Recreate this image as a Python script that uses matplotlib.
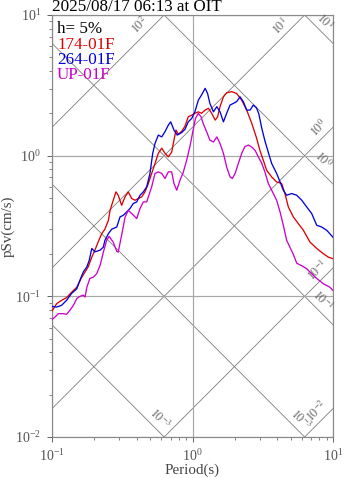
# Spectre de réponse pSv (tripartite) - 2025/08/17 06:13 at OIT
import numpy as np
import matplotlib
matplotlib.use('Agg')
import matplotlib.pyplot as plt

plt.rcParams['font.family'] = ['Liberation Serif', 'DejaVu Serif']
plt.rcParams['mathtext.fontset'] = 'stix'

# Données
red_T = [0.1, 0.108, 0.117, 0.127, 0.138, 0.15, 0.163, 0.172, 0.181, 0.192, 0.202, 0.214,
         0.226, 0.238, 0.252, 0.259, 0.273, 0.285, 0.296, 0.313, 0.331, 0.349, 0.369, 0.39,
         0.411, 0.435, 0.459, 0.485, 0.512, 0.541, 0.571, 0.604, 0.637, 0.673, 0.711, 0.738,
         0.763, 0.792, 0.838, 0.884, 0.933, 0.987, 1.04, 1.1, 1.16, 1.23, 1.3, 1.37,
         1.45, 1.51, 1.57, 1.66, 1.75, 1.9, 2.06, 2.24, 2.43, 2.64, 2.86, 3.02,
         3.19, 3.37, 3.66, 3.97, 4.31, 4.55, 4.81, 5.22, 5.66, 6.15, 6.86, 7.66,
         8.53, 9.26, 10]
red_S = [0.0786, 0.0887, 0.0937, 0.0979, 0.107, 0.116, 0.137, 0.149, 0.162, 0.19, 0.213, 0.246,
         0.279, 0.3, 0.347, 0.409, 0.482, 0.553, 0.523, 0.444, 0.509, 0.553, 0.496, 0.482,
         0.496, 0.509, 0.553, 0.634, 0.747, 0.88, 1.04, 1.13, 1.04, 0.981, 1.06, 1.29,
         1.52, 1.42, 1.49, 1.62, 1.89, 1.94, 2, 2.05, 2, 2.11, 2.17, 2,
         1.79, 1.89, 2.23, 2.62, 2.8, 2.85, 2.77, 2.48, 2.11, 1.7, 1.33, 1.09,
         0.929, 0.788, 0.706, 0.651, 0.634, 0.538, 0.432, 0.367, 0.329, 0.295, 0.243, 0.219,
         0.201, 0.19, 0.185]

blue_T = [0.1, 0.108, 0.117, 0.127, 0.138, 0.15, 0.158, 0.167, 0.177, 0.184, 0.192, 0.202,
          0.22, 0.232, 0.238, 0.252, 0.266, 0.289, 0.305, 0.322, 0.34, 0.359, 0.379, 0.401,
          0.423, 0.447, 0.472, 0.498, 0.521, 0.541, 0.571, 0.604, 0.637, 0.673, 0.7, 0.738,
          0.779, 0.838, 0.884, 0.933, 0.987, 1.04, 1.1, 1.16, 1.23, 1.28, 1.33, 1.41,
          1.49, 1.57, 1.66, 1.75, 1.85, 1.95, 2.06, 2.18, 2.3, 2.43, 2.57, 2.71,
          2.86, 2.97, 3.11, 3.28, 3.46, 3.66, 3.97, 4.2, 4.43, 4.68, 5.08, 5.52,
          5.99, 6.5, 7.05, 7.66, 8.31, 9.02, 10]
blue_S = [0.0849, 0.0839, 0.0863, 0.0937, 0.105, 0.113, 0.13, 0.149, 0.162, 0.18, 0.219, 0.207,
          0.213, 0.224, 0.25, 0.279, 0.3, 0.311, 0.367, 0.377, 0.398, 0.421, 0.457, 0.469,
          0.523, 0.553, 0.6, 0.747, 1.04, 1.22, 1.4, 1.36, 1.48, 1.65, 1.74, 1.52,
          1.4, 1.46, 1.54, 1.74, 1.84, 2.05, 2.48, 2.7, 3.01, 2.77, 2.35, 2.05,
          2.23, 2.05, 1.74, 2, 2.29, 2.35, 2.42, 2.62, 2.42, 2.11, 2.11, 2.29,
          2.18, 1.97, 1.57, 1.27, 1.06, 0.88, 0.747, 0.651, 0.568, 0.523, 0.538, 0.523,
          0.482, 0.432, 0.388, 0.32, 0.311, 0.295, 0.263]

up_T = [0.1, 0.105, 0.111, 0.12, 0.127, 0.134, 0.142, 0.15, 0.158, 0.167, 0.172, 0.177,
        0.186, 0.197, 0.208, 0.22, 0.232, 0.245, 0.255, 0.273, 0.289, 0.296, 0.313, 0.331,
        0.349, 0.369, 0.401, 0.423, 0.447, 0.472, 0.512, 0.541, 0.571, 0.604, 0.637, 0.673,
        0.711, 0.738, 0.772, 0.815, 0.86, 0.909, 0.96, 1.01, 1.05, 1.1, 1.15, 1.19,
        1.26, 1.33, 1.41, 1.49, 1.57, 1.66, 1.75, 1.85, 1.92, 2.01, 2.12, 2.24,
        2.36, 2.5, 2.64, 2.79, 2.94, 3.11, 3.28, 3.46, 3.66, 3.97, 4.2, 4.43,
        4.68, 4.94, 5.22, 5.52, 5.99, 6.5, 7.05, 7.66, 8.53, 9.52, 10]
up_S = [0.0683, 0.0712, 0.0753, 0.0753, 0.0745, 0.0795, 0.0863, 0.0963, 0.1, 0.102, 0.0989, 0.116,
        0.134, 0.137, 0.145, 0.166, 0.206, 0.25, 0.267, 0.242, 0.209, 0.206, 0.272, 0.365,
        0.409, 0.388, 0.357, 0.421, 0.469, 0.469, 0.6, 0.747, 0.767, 0.747, 0.688, 0.767,
        0.767, 0.634, 0.568, 0.669, 0.763, 0.929, 1.17, 1.52, 1.84, 2, 1.89, 1.7,
        1.48, 1.29, 1.25, 1.36, 1.22, 1.04, 0.832, 0.706, 0.688, 0.747, 0.88, 1.04,
        1.16, 1.19, 1.15, 1.09, 0.981, 0.884, 0.763, 0.637, 0.568, 0.482, 0.398, 0.32,
        0.25, 0.223, 0.199, 0.172, 0.165, 0.157, 0.145, 0.134, 0.123, 0.116, 0.11]

series_names = ['174-01F', '264-01F', 'UP-01F']
series_colors = ['#dd0000', '#0000dd', '#cc00cc']

# Droites d'accélération (montantes) et de déplacement (descendantes)
acc_levels = [1e-3, 1e-2, 1e-1, 1e0, 1e1, 1e2, 1e3]
disp_levels = [1e-4, 1e-3, 1e-2, 1e-1, 1e0, 1e1, 1e2]

# Étiquettes des droites : (type, niveau, texte, période de l'étiquette)
diag_labels = [
    ('acc', 1e2, '$10^{2}$', 0.474),
    ('acc', 1e1, '$10^{1}$', 4.71),
    ('acc', 1e0, '$10^{0}$', 8.9),
    ('acc', 1e-1, '$10^{-1}$', 8.63),
    ('acc', 1e-2, '$10^{-2}$', 8.63),
    ('disp', 1e1, '$10^{1}$', 7.82),
    ('disp', 1e0, '$10^{0}$', 7.57),
    ('disp', 1e-1, '$10^{-1}$', 7.57),
    ('disp', 1e-3, '$10^{-3}$', 0.524),
    ('disp', 1e-2, '$10^{-3}$', 5.27),
]

W, H = 347, 478
fig = plt.figure(figsize=(W / 72, H / 72), dpi=72)
ax = fig.add_axes([52 / W, 1 - 437 / H, 281 / W, 422 / H])
ax.set_xscale('log')
ax.set_yscale('log')
ax.set_xlim(0.1, 10)
ax.set_ylim(0.01, 10)

two_pi = 2 * np.pi
Tline = np.array([0.1, 10])
diag_col = '#787878'
for a in acc_levels:
    ax.plot(Tline, a * Tline / two_pi, color=diag_col, lw=0.8, zorder=1)
for d in disp_levels:
    ax.plot(Tline, two_pi * d / Tline, color=diag_col, lw=0.8, zorder=1)

# grille principale
ax.grid(True, which='major', color='#a8a8a8', lw=1.2, zorder=0)

for kind, lev, txt, Tl in diag_labels:
    if kind == 'acc':
        sv = lev * Tl / two_pi
        rot, off = 45, (-1.5, 1.5)
    else:
        sv = two_pi * lev / Tl
        rot, off = -45, (1.5, 1.5)
    ax.annotate(txt, (Tl, sv), xytext=off, textcoords='offset points',
                rotation=rot, rotation_mode='anchor', ha='center', va='bottom',
                fontsize=12, color='#606060')

for T, S, c in zip([red_T, blue_T, up_T], [red_S, blue_S, up_S], series_colors):
    ax.plot(T, S, color=c, lw=1.3, zorder=3)

# textes en haut à gauche
ax.text(0.018, 0.966, 'h= 5%', transform=ax.transAxes, fontsize=17, color='black', va='center')
for i, (name, c) in enumerate(zip(series_names, series_colors)):
    ax.text(0.018, 0.930 - i * 0.0355, name, transform=ax.transAxes,
            fontsize=17, color=c, va='center')

for sp in ax.spines.values():
    sp.set_color('#8a8a8a')
    sp.set_linewidth(1.2)
ax.tick_params(which='both', direction='out', color='#666666', labelcolor='#555555',
               labelsize=14, right=False, top=False)
ax.tick_params(which='major', length=5, width=1, pad=6)
ax.tick_params(which='minor', length=3, width=0.8)

ax.set_title('2025/08/17 06:13 at OIT', loc='left', fontsize=17, pad=1)
ax.set_xlabel('Period(s)', fontsize=15, color='#444444', labelpad=0)
ax.set_ylabel('pSv(cm/s)', fontsize=15, color='#444444', va='center')
ax.yaxis.set_label_coords(-0.155, 0.5)

fig.savefig('out.png', dpi=72)
